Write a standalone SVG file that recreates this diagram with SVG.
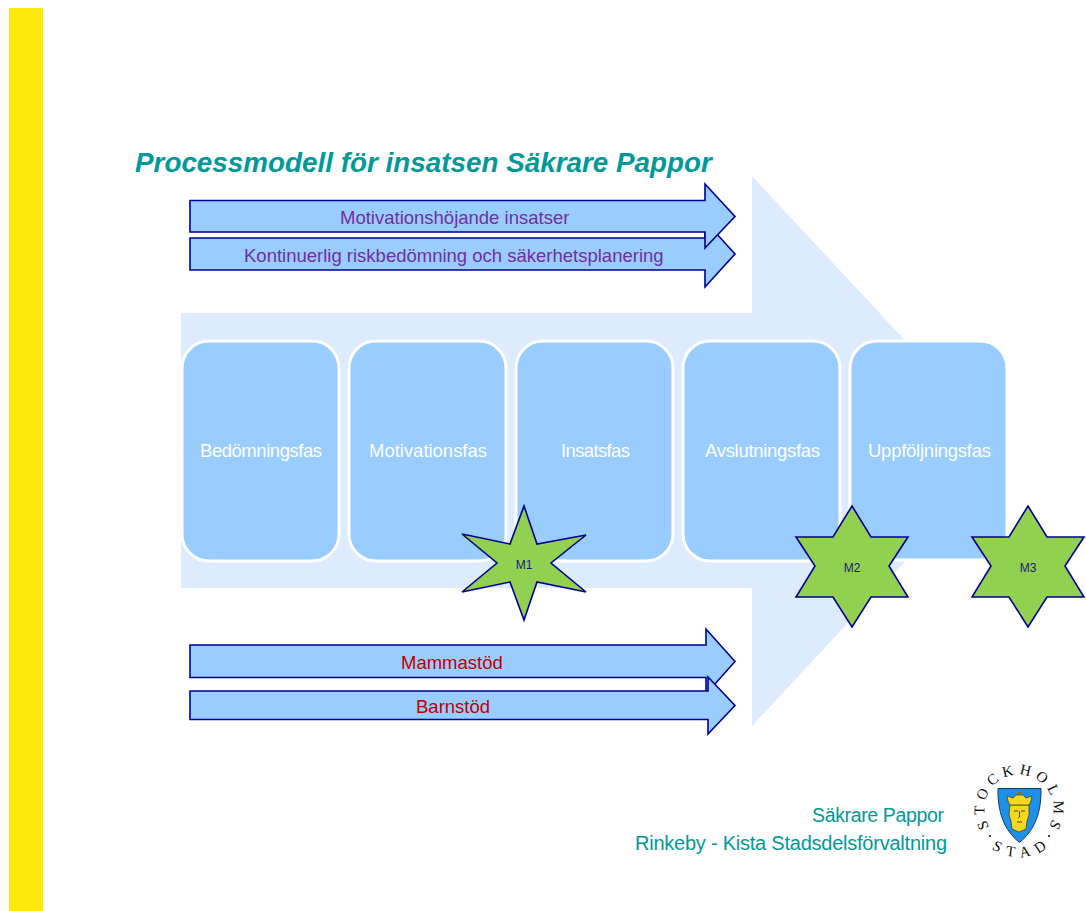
<svg xmlns="http://www.w3.org/2000/svg" width="1086" height="911" viewBox="0 0 1086 911">
<style>
text{font-family:"Liberation Sans",Arial,sans-serif}
.phase{fill:#99ccff;stroke:#fff;stroke-width:3}
.ph{fill:#fff;font-size:18.500px}
.arr{fill:#99ccff;stroke:#000099;stroke-width:1.6}
.star{fill:#92d050;stroke:#000099;stroke-width:1.6}
.st{fill:#1a1a80;font-size:12px;text-anchor:middle}
.pur{fill:#7030a0;font-size:18.500px}
.red{fill:#c00000;font-size:18.500px}
.ft{fill:#009999}
.lg{font-family:"Liberation Serif",serif;font-size:15px;fill:#111}
</style>
<defs>
<path id="arcTop" d="M989.700 827.300A34.500 34.500 0 1 1 1036.250 838.900"/>
<path id="arcBot" d="M991.900 848.600A48 48 0 0 0 1049.900 845.800"/>
</defs>
<rect id="bar" x="9" y="8" width="34" height="903" fill="#ffe80b"/>
<text id="title" x="135" y="172" font-size="27.840" font-weight="bold" font-style="italic" fill="#009999">Processmodell för insatsen Säkrare Pappor</text>
<polygon id="bigArrow" points="181,313 752,313 752,176 1008,451 752,726 752,588 181,588" fill="#ddebff"/>
<g id="connectors"></g>
<g id="phase1"><rect class="phase" x="182" y="341" width="157" height="220" rx="27"/><text class="ph" x="200" y="457" textLength="122">Bedömningsfas</text></g>
<g id="phase2"><rect class="phase" x="349" y="341" width="157" height="220" rx="27"/><text class="ph" x="369" y="457" textLength="118">Motivationsfas</text></g>
<g id="phase3"><rect class="phase" x="516" y="341" width="157" height="220" rx="27"/><text class="ph" x="561" y="457" textLength="69">Insatsfas</text></g>
<g id="phase4"><rect class="phase" x="683" y="341" width="157" height="220" rx="27"/><text class="ph" x="705" y="457" textLength="115">Avslutningsfas</text></g>
<g id="phase5"><rect class="phase" x="850" y="341" width="157" height="219" rx="27"/><text class="ph" x="868" y="457" textLength="123">Uppföljningsfas</text></g>
<g id="arrow2"><polygon class="arr" points="190,238 705,238 705,221 735,254 705,287 705,270 190,270"/><text class="pur" x="244" y="262">Kontinuerlig riskbedömning och säkerhetsplanering</text></g>
<g id="arrow1"><polygon class="arr" points="190,200.500 705,200.500 705,184 735,216.500 705,248 705,232 190,232"/><text class="pur" x="340" y="224">Motivationshöjande insatser</text></g>
<g id="arrow3"><polygon class="arr" points="190,645 706,645 706,629 735,661.500 706,694 706,677.500 190,677.500"/><text class="red" x="401" y="669">Mammastöd</text></g>
<g id="arrow4"><polygon class="arr" points="190,691 708,691 708,677 735,705.500 708,734 708,719.500 190,719.500"/><text class="red" x="416" y="713">Barnstöd</text></g>
<g id="m1"><polygon class="star" points="524,506 537,544 586,535 551,563 586,592 537,582 524,620 510,582 462,592 497,563 462,534 510,544"/><text class="st" x="524" y="569">M1</text></g>
<g id="m2"><polygon class="star" points="852,506 871,537 908,537 889,566 908,597 871,597 852,627 833,597 796,597 815,566 796,537 833,537"/><text class="st" x="852" y="572">M2</text></g>
<g id="m3"><polygon class="star" points="1028,506 1047,537 1084,537 1065,566 1084,597 1047,597 1028,627 1009,597 972,597 991,566 972,537 1009,537"/><text class="st" x="1028" y="572">M3</text></g>
<g id="footer"><text class="ft" x="812" y="822" font-size="19.500" textLength="132">Säkrare Pappor</text><text class="ft" x="635" y="850" font-size="20" textLength="312">Rinkeby - Kista Stadsdelsförvaltning</text></g>
<g id="logo">
<path d="M998 788.500H1041C1041.500 812 1035 830 1019.500 842.500C1004 830 997.500 812 998 788.500Z" fill="#1e90e8" stroke="#0a3a70" stroke-width="1"/>
<path d="M1010 805H1029L1029 815L1027 821L1026 829L1019 832L1012 829L1011 821L1009 815Z" fill="#f8d81c" stroke="#333" stroke-width=".7"/>
<path d="M1008 801L1007 796L1013 798L1016 795H1023L1026 798L1032 796L1031 801L1029 805H1010Z" fill="#f8d81c" stroke="#333" stroke-width=".7"/>
<path d="M1019.500 791.500V795M1017.500 793H1021.500" stroke="#8a6d00" stroke-width="1.400" fill="none"/>
<path d="M1014 811H1018M1021 811H1025M1019.500 811V817L1018 818M1017 822H1022" stroke="#222" stroke-width=".8" fill="none"/>
<text class="lg" letter-spacing="4.900"><textPath href="#arcTop">STOCKHOLMS</textPath></text>
<text class="lg" letter-spacing="6.900"><textPath href="#arcBot">STAD</textPath></text>
<circle cx="990" cy="836" r="1" fill="#111"/><circle cx="1049" cy="836" r="1" fill="#111"/>
</g>
</svg>
